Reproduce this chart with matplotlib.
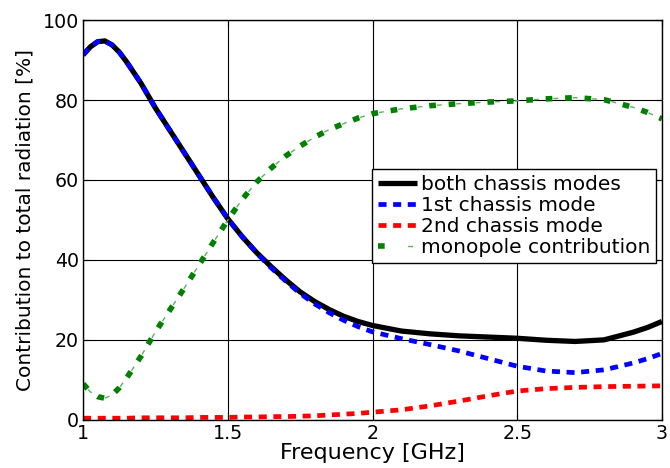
import matplotlib
matplotlib.use("Agg")
import matplotlib.pyplot as plt
from matplotlib.legend_handler import HandlerTuple
from matplotlib.ticker import FormatStrFormatter

# frequency points [GHz]
freq = [1.0, 1.025, 1.05, 1.075, 1.1, 1.125, 1.15, 1.2, 1.25, 1.3, 1.35, 1.4,
        1.45, 1.5, 1.55, 1.6, 1.65, 1.7, 1.75, 1.8, 1.85, 1.9, 1.95, 2.0,
        2.1, 2.2, 2.3, 2.4, 2.5, 2.6, 2.7, 2.8, 2.9, 2.95, 3.0]

# contribution to total radiation [%]
both_modes = [91.3, 93.3, 94.6, 94.8, 93.8, 92.0, 89.6, 84.2, 78.0, 72.4, 66.8, 61.2,
              55.6, 50.3, 45.8, 41.8, 38.3, 35.0, 32.0, 29.6, 27.6, 25.9, 24.6, 23.6,
              22.2, 21.5, 21.0, 20.7, 20.4, 19.9, 19.6, 20.0, 21.9, 23.1, 24.6]
first_mode = [91.3, 93.3, 94.6, 94.8, 93.8, 92.0, 89.6, 84.2, 78.0, 72.4, 66.8, 61.2,
              55.6, 50.3, 45.8, 41.7, 38.0, 34.7, 31.6, 29.0, 26.8, 24.9, 23.3, 22.0,
              20.3, 18.8, 17.2, 15.3, 13.4, 12.2, 11.8, 12.5, 14.2, 15.3, 16.6]
second_mode = [0.4, 0.4, 0.4, 0.4, 0.4, 0.4, 0.4, 0.5, 0.5, 0.5, 0.5, 0.6,
               0.6, 0.6, 0.7, 0.7, 0.8, 0.8, 0.9, 1.0, 1.2, 1.4, 1.6, 1.9,
               2.5, 3.5, 4.7, 6.0, 7.2, 7.8, 8.1, 8.3, 8.4, 8.45, 8.5]
monopole = [9.0, 7.0, 5.8, 5.4, 6.2, 8.0, 10.4, 15.9, 22.0, 27.5, 33.0, 38.7,
            44.4, 50.0, 55.2, 59.5, 63.0, 66.0, 68.5, 70.7, 72.6, 74.1, 75.5, 76.6,
            77.8, 78.6, 79.1, 79.5, 79.8, 80.3, 80.6, 80.1, 78.2, 76.9, 75.3]

labels = ["both chassis modes", "1st chassis mode", "2nd chassis mode",
          "monopole contribution"]
xticks = [1, 1.5, 2, 2.5, 3]
yticks = [0, 20, 40, 60, 80, 100]

fig = plt.figure(figsize=(6.7, 4.68), dpi=100)
ax = fig.add_axes([0.124, 0.103, 0.864, 0.854])

l1, = ax.plot(freq, both_modes, color="black", lw=3.8, solid_capstyle="butt")
l2, = ax.plot(freq, first_mode, color="#0000ff", lw=3.4, ls=(0, (1.7, 1.4)))
l3, = ax.plot(freq, second_mode, color="#ff0000", lw=3.4, ls=(0, (1.7, 1.4)))
# monopole: thick squares with thin dashes in between (MATLAB dash-dot look)
l4a, = ax.plot(freq, monopole, color="#008000", lw=4.0, ls=(0, (1.2, 2.3)))
l4b, = ax.plot(freq, monopole, color="#5cb25c", lw=1.0, ls=(8.5, (3.5, 10.5)))

ax.set_xlim(1, 3)
ax.set_ylim(0, 100)
ax.set_xticks(xticks)
ax.set_yticks(yticks)
ax.xaxis.set_major_formatter(FormatStrFormatter("%g"))
ax.grid(True, color="black", lw=0.8)
ax.set_axisbelow(True)
ax.tick_params(direction="in", top=True, right=True, length=4, labelsize=13.7, pad=3)
for s in ax.spines.values():
    s.set_linewidth(1.0)

ax.set_xlabel("Frequency [GHz]", fontsize=16, labelpad=0)
ax.set_ylabel("Contribution to total radiation [%]", fontsize=14.5, labelpad=6)

leg = ax.legend([l1, l2, l3, (l4a, l4b)], labels,
                handler_map={tuple: HandlerTuple(ndivide=None)},
                loc="upper right", bbox_to_anchor=(656 / 670, 1 - 169 / 468),
                bbox_transform=fig.transFigure, borderaxespad=0,
                fontsize=14.5, handlelength=1.9, handletextpad=0.2,
                labelspacing=0.1, borderpad=0.3, fancybox=False,
                framealpha=1, edgecolor="black")
leg.get_frame().set_linewidth(1.0)

fig.savefig("out.png", dpi=100)
